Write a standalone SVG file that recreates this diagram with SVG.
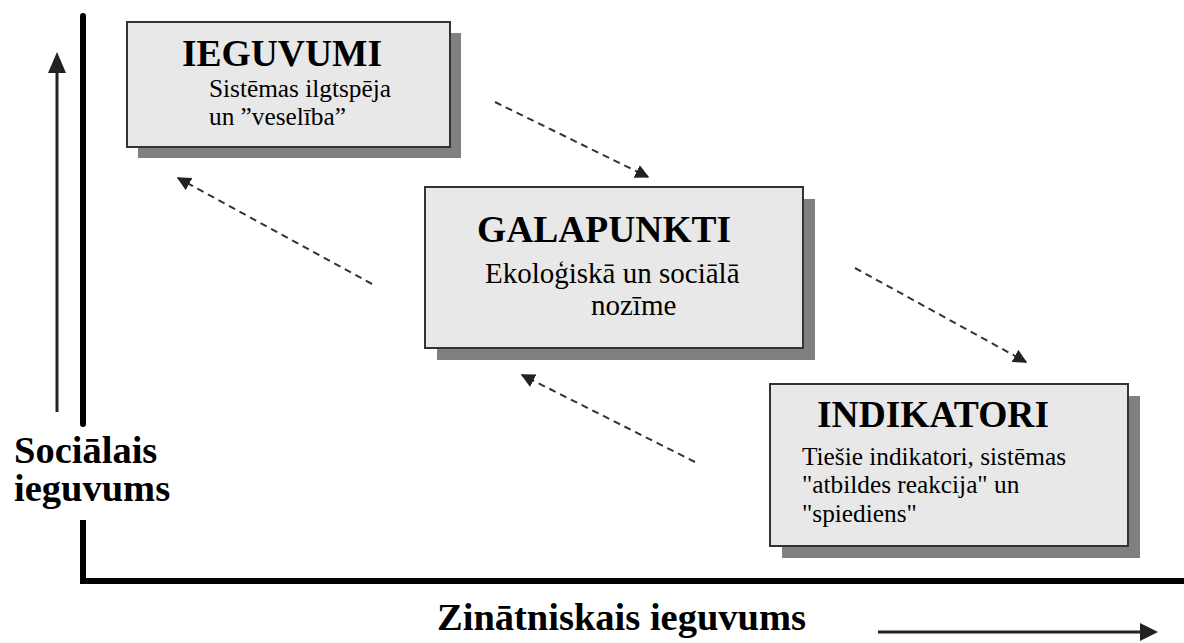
<svg xmlns="http://www.w3.org/2000/svg" width="1184" height="643" viewBox="0 0 1184 643">
  <defs>
    <marker id="dashHead" viewBox="0 0 10 10" refX="9" refY="5" markerWidth="7" markerHeight="7" markerUnits="strokeWidth" orient="auto">
      <path d="M0,0 L10,5 L0,10 Z" fill="#222"/>
    </marker>
    <style>
      .shadow { fill: #808080; }
      .box { fill: #e8e8e8; stroke: #333; stroke-width: 2; }
      .title { font-family: "Liberation Serif", "Times New Roman", serif; font-weight: bold; font-size: 37.5px; fill: #000; }
      .sub { font-family: "Liberation Serif", "Times New Roman", serif; font-size: 25.3px; fill: #000; }
      .sub2 { font-family: "Liberation Serif", "Times New Roman", serif; font-size: 29px; fill: #000; }
      .axis { stroke: #000; stroke-width: 6; fill: none; }
      .axislabel { font-family: "Liberation Serif", "Times New Roman", serif; font-weight: bold; font-size: 38.5px; fill: #000; }
      .dir { stroke: #222; stroke-width: 3; fill: none; }
      .dash { stroke: #333; stroke-width: 2; stroke-dasharray: 7 5; fill: none; }
    </style>
  </defs>

  <rect width="1184" height="643" fill="#fff"/>

  <!-- axes -->
  <g id="axes">
    <line class="axis" x1="83" y1="16" x2="83" y2="424" stroke-linecap="round"/>
    <polyline class="axis" points="83,520 83,581 1184,581" stroke-width="7"/>
    <line class="dir" x1="57" y1="412" x2="57" y2="68"/>
    <polygon points="57,52 48,73 66,73" fill="#222"/>
    <line class="dir" x1="878" y1="632" x2="1142" y2="632"/>
    <polygon points="1140,623 1158,632 1140,641" fill="#222"/>
    <text class="axislabel" x="14" y="463">Sociālais</text>
    <text class="axislabel" x="14" y="501">ieguvums</text>
    <text class="axislabel" x="437" y="630">Zinātniskais ieguvums</text>
  </g>

  <!-- nodes -->
  <g id="ieguvumi">
    <rect class="shadow" x="138" y="33" width="323" height="125"/>
    <rect class="box" x="127" y="22" width="323" height="125"/>
    <text class="title" x="182" y="66">IEGUVUMI</text>
    <text class="sub" x="209" y="97">Sistēmas ilgtspēja</text>
    <text class="sub" x="209" y="125">un ”veselība”</text>
  </g>

  <g id="galapunkti">
    <rect class="shadow" x="437" y="199" width="378" height="161"/>
    <rect class="box" x="425" y="187" width="378" height="161"/>
    <text class="title" x="477" y="242">GALAPUNKTI</text>
    <text class="sub2" x="485" y="283">Ekoloģiskā un sociālā</text>
    <text class="sub2" x="591" y="315">nozīme</text>
  </g>

  <g id="indikatori">
    <rect class="shadow" x="782" y="396" width="358" height="162"/>
    <rect class="box" x="770" y="384" width="358" height="162"/>
    <text class="title" x="817" y="427">INDIKATORI</text>
    <text class="sub" x="802" y="465">Tiešie indikatori, sistēmas</text>
    <text class="sub" x="802" y="493">"atbildes reakcija" un</text>
    <text class="sub" x="802" y="522">"spiediens"</text>
  </g>

  <!-- connectors -->
  <g id="connectors">
    <line class="dash" x1="495" y1="102" x2="648" y2="177" marker-end="url(#dashHead)"/>
    <line class="dash" x1="372" y1="284" x2="178" y2="178" marker-end="url(#dashHead)"/>
    <line class="dash" x1="855" y1="268" x2="1026" y2="362" marker-end="url(#dashHead)"/>
    <line class="dash" x1="695" y1="462" x2="522" y2="375" marker-end="url(#dashHead)"/>
  </g>
</svg>
